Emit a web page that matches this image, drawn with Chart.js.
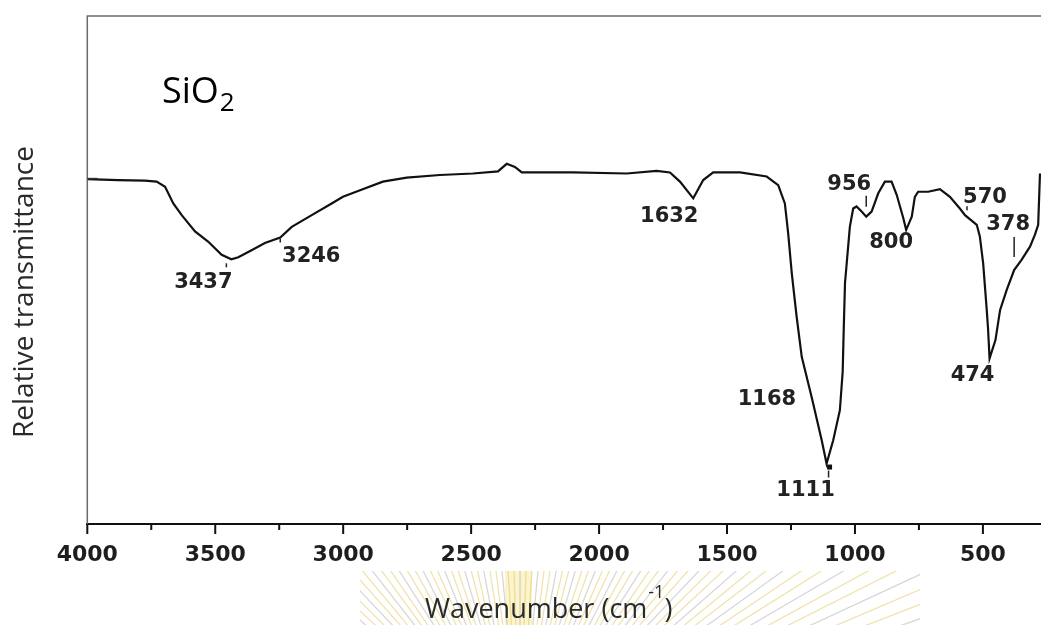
<!DOCTYPE html>
<html>
<head>
<meta charset="utf-8">
<script src="https://cdn.jsdelivr.net/npm/chart.js@4.4.0/dist/chart.umd.min.js"></script>
<style>
  html, body { margin: 0; padding: 0; background: #fff; }
  #wrap { width: 1041px; height: 625px; position: relative; }
</style>
</head>
<body>
<div id="wrap"><canvas id="ftirChart" width="1041" height="625"></canvas></div>
<script>
// FTIR spectrum of SiO2, transmittance in arbitrary units (0-100)
const wavenumbers = [
    4000, 3880, 3775, 3729, 3696, 3664, 3631, 3579, 3528, 3475, 3437, 3410, 3358, 3306, 3246,
    3201, 3123, 3045, 3001, 2934, 2845, 2752, 2622, 2493, 2395, 2361, 2329, 2302, 2102, 1892,
    1775, 1723, 1684, 1632, 1593, 1554, 1449, 1345, 1300, 1274, 1261, 1247, 1228, 1208, 1168,
    1130, 1111, 1085, 1059, 1048, 1044, 1039, 1020, 1007, 994, 974, 956, 935, 909, 883,
    857, 837, 811, 800, 778, 766, 753, 714, 668, 629, 590, 570, 524, 512, 499,
    485, 480, 474, 451, 433, 407, 378, 349, 316, 297, 284, 277
];
const transmittance = [
    67.9, 67.7, 67.6, 67.4, 66.4, 63.1, 60.8, 57.6, 55.6, 53.0, 52.1, 52.5, 53.9, 55.3, 56.4,
    58.5, 60.8, 63.1, 64.4, 65.7, 67.4, 68.2, 68.7, 69.0, 69.4, 70.9, 70.3, 69.2, 69.2, 69.0,
    69.5, 69.2, 67.4, 64.1, 67.7, 69.2, 69.2, 68.4, 66.7, 63.1, 57.2, 49.4, 40.8, 32.9, 24.7,
    16.5, 11.9, 16.5, 22.4, 30.0, 38.2, 47.4, 58.5, 62.1, 62.5, 61.5, 60.5, 61.5, 65.1, 67.4,
    67.4, 64.8, 60.2, 57.9, 60.5, 64.4, 65.4, 65.4, 65.9, 64.4, 62.1, 60.8, 58.9, 56.6, 51.3,
    42.1, 38.5, 32.6, 36.2, 42.1, 46.1, 50.0, 52.0, 54.6, 56.9, 58.9, 69.0
];

const majorTicks = [4000, 3500, 3000, 2500, 2000, 1500, 1000, 500];
const minorTicks = [3750, 3250, 2750, 2250, 1750, 1250, 750];

// assigned bands
const peakWavenumbers = [3437, 3246, 1632, 1168, 1111, 956, 800, 570, 474, 378];
const peakTransmittance = [52.1, 56.4, 64.1, 24.7, 11.9, 60.5, 57.9, 60.8, 32.6, 50.0];

// label placement (px, relative to the band point)
const peakLabelOffsets = [
    [-28, 23], [31, 19], [-24, 18], [-45, 1], [-21, 27],
    [-17, -32], [-15, 13], [20, -18], [-17, 17], [-6, -45]
];

const X_MIN = 273;
const X_MAX = 4000;

const points = wavenumbers.map((w, i) => ({ x: w, y: transmittance[i] }));

// faint seal watermark behind the lower margin
function drawWatermark(ctx) {
    ctx.save();
    ctx.beginPath();
    ctx.rect(360, 571, 560, 54);
    ctx.clip();
    ctx.fillStyle = 'rgba(250, 240, 190, 0.75)';
    ctx.fillRect(505, 571, 27, 54);
    const cx = 520, cy = 760;
    for (let i = 0; i < 90; i++) {
        const a = Math.PI + 0.15 + (i / 90) * (Math.PI - 0.3);
        ctx.strokeStyle = (i % 3 === 0) ? 'rgba(150,150,150,0.4)' : 'rgba(228,196,80,0.5)';
        ctx.lineWidth = 1.2;
        ctx.beginPath();
        ctx.moveTo(cx + Math.cos(a) * 120, cy + Math.sin(a) * 120);
        ctx.lineTo(cx + Math.cos(a) * 520, cy + Math.sin(a) * 520);
        ctx.stroke();
    }
    ctx.restore();
}

const decorations = {
    id: 'decorations',
    beforeDraw(chart) {
        drawWatermark(chart.ctx);
    },
    afterDraw(chart) {
        const ctx = chart.ctx;
        const area = chart.chartArea;
        const xs = chart.scales.x;
        const ys = chart.scales.y;
        ctx.save();

        // frame: top and left edges
        ctx.strokeStyle = '#6a6a6a';
        ctx.lineWidth = 1.5;
        ctx.beginPath();
        ctx.moveTo(area.left, area.bottom);
        ctx.lineTo(area.left, area.top);
        ctx.lineTo(area.right, area.top);
        ctx.stroke();

        // single inward tick on the left axis
        ctx.strokeStyle = '#333';
        ctx.beginPath();
        ctx.moveTo(area.left, ys.getPixelForValue(68));
        ctx.lineTo(area.left + 10, ys.getPixelForValue(68));
        ctx.stroke();

        // x tick marks
        ctx.strokeStyle = '#111';
        ctx.lineWidth = 2;
        majorTicks.forEach(v => {
            const px = xs.getPixelForValue(v);
            ctx.beginPath();
            ctx.moveTo(px, area.bottom);
            ctx.lineTo(px, area.bottom + 10);
            ctx.stroke();
        });
        minorTicks.forEach(v => {
            const px = xs.getPixelForValue(v);
            ctx.beginPath();
            ctx.moveTo(px, area.bottom);
            ctx.lineTo(px, area.bottom + 6);
            ctx.stroke();
        });

        // band labels
        ctx.fillStyle = '#222';
        ctx.font = 'bold 21px "DejaVu Sans"';
        ctx.textAlign = 'center';
        ctx.textBaseline = 'middle';
        peakWavenumbers.forEach((w, i) => {
            const px = xs.getPixelForValue(w);
            const py = ys.getPixelForValue(peakTransmittance[i]);
            const [dx, dy] = peakLabelOffsets[i];
            ctx.fillText(String(w), px + dx, py + dy);
        });

        // small pointer marks next to some bands
        ctx.strokeStyle = '#222';
        ctx.lineWidth = 1.5;
        const mark = (w, t, dx, y0, y1) => {
            const px = xs.getPixelForValue(w) + dx;
            const py = ys.getPixelForValue(t);
            ctx.beginPath();
            ctx.moveTo(px, py + y0);
            ctx.lineTo(px, py + y1);
            ctx.stroke();
        };
        mark(3437, 52.1, -5, 4, 8);
        mark(3246, 56.4, 0, 1, 5);
        mark(956, 60.5, 0, -21, -10);
        mark(570, 60.8, 2, -9, -5);
        mark(378, 50.0, 0, -33, -13);
        mark(1111, 11.9, 2, 7, 14);
        ctx.fillStyle = '#111';
        ctx.fillRect(xs.getPixelForValue(1111) + 0.5, ys.getPixelForValue(11.9) + 1, 5, 5);

        // sample name
        ctx.fillStyle = '#000';
        ctx.textAlign = 'left';
        ctx.textBaseline = 'alphabetic';
        ctx.font = '36px "Open Sans"';
        ctx.fillText('SiO', 162, 103);
        const w1 = ctx.measureText('SiO').width;
        ctx.font = '26px "Open Sans"';
        ctx.fillText('2', 162 + w1 + 1, 111);

        // axis titles
        ctx.fillStyle = '#2a2a2a';
        ctx.font = '28px "Open Sans"';
        ctx.save();
        ctx.translate(33, 292);
        ctx.rotate(-Math.PI / 2);
        ctx.textAlign = 'center';
        ctx.fillText('Relative transmittance', 0, 0);
        ctx.restore();

        ctx.textAlign = 'left';
        let tx = 425;
        const base = 618;
        ctx.font = '27px "Open Sans"';
        ctx.fillText('Wavenumber (cm', tx, base);
        tx += ctx.measureText('Wavenumber (cm').width + 1;
        ctx.font = '18px "Open Sans"';
        ctx.fillText('-1', tx, base - 20);
        tx += ctx.measureText('-1').width;
        ctx.font = '27px "Open Sans"';
        ctx.fillText(')', tx, base);

        ctx.restore();
    }
};

new Chart(document.getElementById('ftirChart').getContext('2d'), {
    type: 'line',
    data: {
        datasets: [{
            data: points,
            borderColor: '#111',
            borderWidth: 2.2,
            pointRadius: 0,
            tension: 0,
            fill: false
        }]
    },
    options: {
        responsive: false,
        animation: false,
        layout: { padding: { left: 0, right: 0, top: 16, bottom: 0 } },
        plugins: {
            legend: { display: false },
            tooltip: { enabled: false }
        },
        scales: {
            x: {
                type: 'linear',
                reverse: true,
                min: X_MIN,
                max: X_MAX,
                afterBuildTicks: scale => {
                    scale.ticks = majorTicks.map(v => ({ value: v }));
                },
                afterFit: scale => { scale.height = 101; },
                grid: { display: false },
                border: { display: true, color: '#111', width: 2 },
                ticks: {
                    autoSkip: false,
                    maxRotation: 0,
                    padding: 10,
                    color: '#1e1e1e',
                    font: { family: 'DejaVu Sans', weight: 'bold', size: 22 },
                    callback: v => String(v)
                }
            },
            y: {
                min: 0,
                max: 100,
                afterFit: scale => { scale.width = 87.3; },
                grid: { display: false },
                border: { display: false },
                ticks: { display: false }
            }
        }
    },
    plugins: [decorations]
});
</script>
</body>
</html>
